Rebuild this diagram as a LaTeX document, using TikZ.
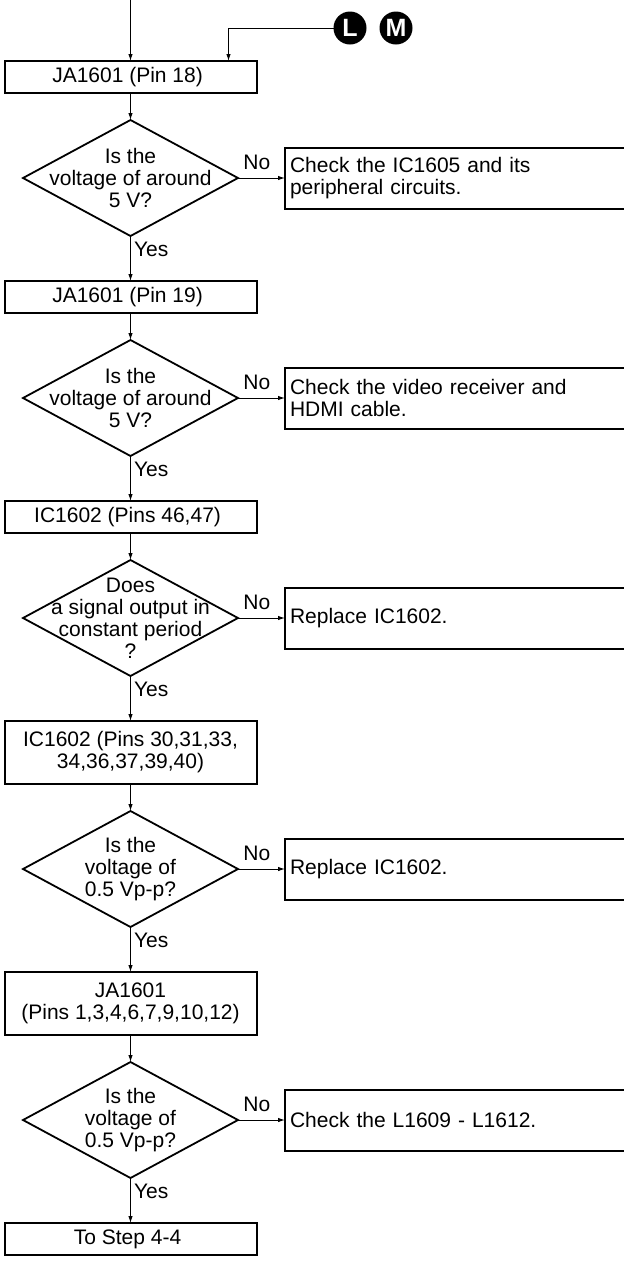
\documentclass[tikz,border=0pt]{standalone}
\usepackage{fontspec}
\setmainfont{Liberation Sans}
\usepackage{tikz}
\usetikzlibrary{
  arrows.meta,
  positioning,
  shapes.geometric
}
\tikzset{
  stepbox/.style={
    draw,
    line width=2pt,
    outer sep=0pt,
    inner sep=2pt,
    align=center,
    minimum width=252pt,
    minimum height=32pt
  },
  tallbox/.style={
    stepbox,
    minimum height=63pt
  },
  decision/.style={
    diamond,
    draw,
    line width=1.8pt,
    outer sep=0pt,
    inner sep=0pt,
    minimum width=215pt,
    minimum height=116pt
  },
  qtext/.style={
    align=center,
    inner sep=0pt
  },
  actionbox/.style={
    draw,
    line width=2pt,
    outer sep=0pt,
    inner xsep=5pt,
    text width=340pt,
    align=left,
    minimum height=61pt
  },
  flow/.style={
    -{Latex[length=7pt,width=4.5pt]},
    line width=1pt
  },
  answer/.style={
    inner sep=3pt
  },
  badge/.style={
    circle,
    fill=black,
    text=white,
    inner sep=0pt,
    outer sep=0pt,
    minimum size=33pt,
    font=\fontsize{25}{25}\selectfont\bfseries
  }
}

\begin{document}
\begin{tikzpicture}[
  x=1pt,
  y=1pt,
  font=\fontsize{21}{22}\selectfont,
  node distance=27pt and 47pt
]

  \clip (0,0) rectangle (624,-1262);

  \coordinate (entry) at (130.5,0);

  \node[
    stepbox
  ] (pin18) at (130.5,-77) {
    JA1601 (Pin 18)
  };

  \node[
    badge
  ] (badgeL) at (350,-28) {
    L
  };

  \node[
    badge,
    right=13pt of badgeL
  ] (badgeM) {
    M
  };

  \node[
    decision,
    below=of pin18,
    label={[qtext]center:Is the\\voltage of around\\5 V?}
  ] (ask1) {};

  \node[
    actionbox,
    right=of ask1
  ] (fix1) {
    Check the IC1605 and its\\peripheral circuits.
  };

  \node[
    stepbox,
    below=45pt of ask1
  ] (pin19) {
    JA1601 (Pin 19)
  };

  \node[
    decision,
    below=of pin19,
    label={[qtext]center:Is the\\voltage of around\\5 V?}
  ] (ask2) {};

  \node[
    actionbox,
    right=of ask2
  ] (fix2) {
    Check the video receiver and\\HDMI cable.
  };

  \node[
    stepbox,
    below=45pt of ask2
  ] (pin46) {
    IC1602 (Pins 46,47)
  };

  \node[
    decision,
    below=of pin46,
    label={[qtext]center:Does\\a signal output in\\constant period\\?}
  ] (ask3) {};

  \node[
    actionbox,
    right=of ask3
  ] (fix3) {
    Replace IC1602.
  };

  \node[
    tallbox,
    below=45pt of ask3
  ] (pin30) {
    IC1602 (Pins 30,31,33,\\34,36,37,39,40)
  };

  \node[
    decision,
    below=of pin30,
    label={[qtext]center:Is the\\voltage of\\0.5 Vp-p?}
  ] (ask4) {};

  \node[
    actionbox,
    right=of ask4
  ] (fix4) {
    Replace IC1602.
  };

  \node[
    tallbox,
    below=45pt of ask4
  ] (pin1) {
    JA1601\\(Pins 1,3,4,6,7,9,10,12)
  };

  \node[
    decision,
    below=of pin1,
    label={[qtext]center:Is the\\voltage of\\0.5 Vp-p?}
  ] (ask5) {};

  \node[
    actionbox,
    right=of ask5
  ] (fix5) {
    Check the L1609 - L1612.
  };

  \node[
    stepbox,
    below=45pt of ask5
  ] (nextstep) {
    To Step 4-4
  };

  % entries
  \draw[flow]
  (entry) --
  (pin18);

  \draw[flow]
  (badgeL.west) -|
  ([xshift=98pt]pin18.north);

  % main column
  \draw[flow]
  (pin18) --
  (ask1);

  \draw[flow]
  (ask1) --
  node[answer, right, pos=0.3] (yes1) {Yes}
  (pin19);

  \draw[flow]
  (pin19) --
  (ask2);

  \draw[flow]
  (ask2) --
  node[answer, right, pos=0.3] (yes2) {Yes}
  (pin46);

  \draw[flow]
  (pin46) --
  (ask3);

  \draw[flow]
  (ask3) --
  node[answer, right, pos=0.3] (yes3) {Yes}
  (pin30);

  \draw[flow]
  (pin30) --
  (ask4);

  \draw[flow]
  (ask4) --
  node[answer, right, pos=0.3] (yes4) {Yes}
  (pin1);

  \draw[flow]
  (pin1) --
  (ask5);

  \draw[flow]
  (ask5) --
  node[answer, right, pos=0.3] (yes5) {Yes}
  (nextstep);

  % no branches
  \draw[flow]
  (ask1) --
  node[answer, above=5pt, pos=0.4] (no1) {No}
  (fix1);

  \draw[flow]
  (ask2) --
  node[answer, above=5pt, pos=0.4] (no2) {No}
  (fix2);

  \draw[flow]
  (ask3) --
  node[answer, above=5pt, pos=0.4] (no3) {No}
  (fix3);

  \draw[flow]
  (ask4) --
  node[answer, above=5pt, pos=0.4] (no4) {No}
  (fix4);

  \draw[flow]
  (ask5) --
  node[answer, above=5pt, pos=0.4] (no5) {No}
  (fix5);

\end{tikzpicture}
\end{document}
